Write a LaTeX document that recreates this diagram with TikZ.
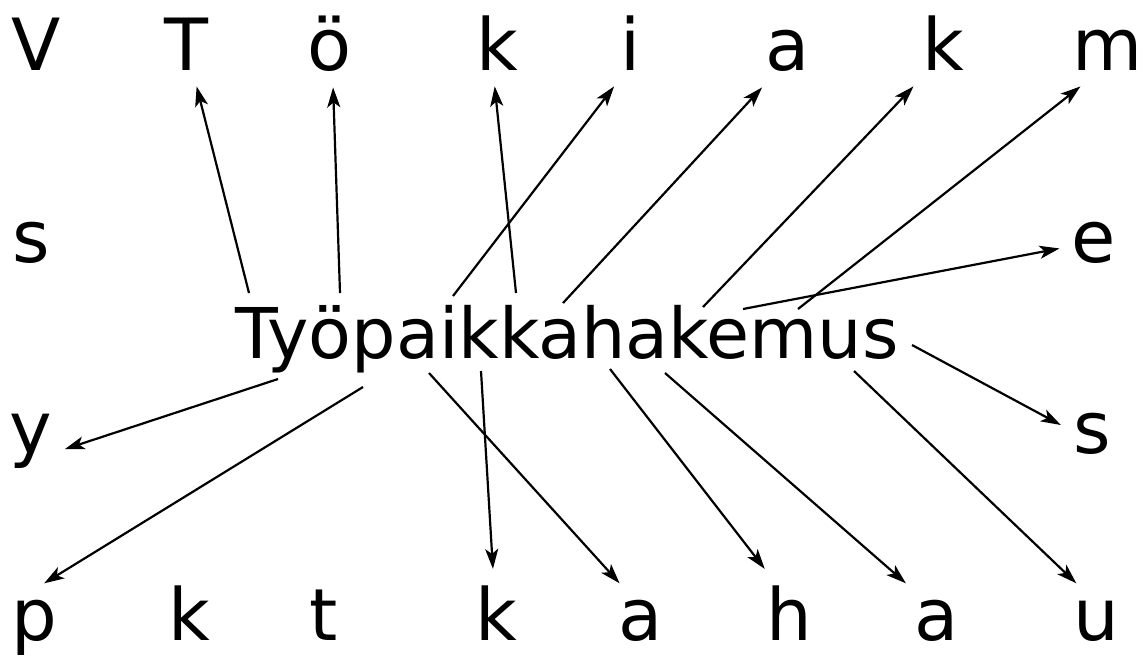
\documentclass[tikz,border=0pt]{standalone}
\usepackage{fontspec}
\setmainfont{DejaVu Sans}
\usetikzlibrary{arrows.meta}
\tikzset{
  ltr/.style = {anchor=base, inner xsep=6pt, inner ysep=8pt,
                font=\fontsize{36}{43}\selectfont},
  wrd/.style = {anchor=base, inner sep=0pt, font=\fontsize{35}{42}\selectfont},
  arr/.style = {-{Stealth[length=10pt, width=6.5pt, inset=2.5pt]}, line width=1.1pt},
}
\begin{document}
\begin{tikzpicture}[x=0.5pt, y=-0.5pt]
    \useasboundingbox (0,0) rectangle (1143,655);
    % the word in the middle
    \node[wrd] (word) at (567,358) {Työpaikkahakemus};
    % top row
    \node[ltr] (tV)  at (36,70)   {V};
    \node[ltr] (tT)  at (186,70)  {T};
    \node[ltr] (tO)  at (330,70)  {ö};
    \node[ltr] (tK)  at (497,70)  {k};
    \node[ltr] (tI)  at (630,70)  {i};
    \node[ltr] (tA)  at (788,70)  {a};
    \node[ltr] (tK2) at (943,70)  {k};
    \node[ltr] (tM)  at (1108,70) {m};
    % sides
    \node[ltr] (lS)  at (31,262)    {s};
    \node[ltr] (rE)  at (1094,262)  {e};
    \node[ltr] (lY)  at (31,453)    {y};
    \node[ltr] (rS)  at (1092,453)  {s};
    % bottom row
    \node[ltr] (bP)  at (34,640)   {p};
    \node[ltr] (bK)  at (189,640)  {k};
    \node[ltr] (bT)  at (324,640)  {t};
    \node[ltr] (bK2) at (496,640)  {k};
    \node[ltr] (bA)  at (641,640)  {a};
    \node[ltr] (bH)  at (789,640)  {h};
    \node[ltr] (bA2) at (937,640)  {a};
    \node[ltr] (bU)  at (1096,640) {u};
    % start points on the word
    \coordinate (wT)  at (249,293);
    \coordinate (wO)  at (340,293);
    \coordinate (wI)  at (453,296);
    \coordinate (wK)  at (516,293);
    \coordinate (wA)  at (563,303);
    \coordinate (wK2) at (703,307);
    \coordinate (wE)  at (743,309);
    \coordinate (wM)  at (798,309);
    \coordinate (wS)  at (912,345);
    \coordinate (wY)  at (278,379);
    \coordinate (wP)  at (363,387);
    \coordinate (wA2) at (429,373);
    \coordinate (wK3) at (481,371);
    \coordinate (wH)  at (610,369);
    \coordinate (wA3) at (665,373);
    \coordinate (wU)  at (854,371);
    % arrows up
    \draw[arr] (wT)  -- (tT.-76);
    \draw[arr] (wO)  -- (tO.-86);
    \draw[arr] (wK)  -- (tK.-93);
    \draw[arr] (wI)  -- (tI.-110);
    \draw[arr] (wA)  -- (tA.-125);
    \draw[arr] (wK2) -- (tK2.-124);
    \draw[arr] (wM)  -- (tM.-127);
    % arrows to the sides
    \draw[arr] (wE)  -- (rE.-170);
    \draw[arr] (wS)  -- (rS.165);
    \draw[arr] (wY)  -- (lY.-14);
    % arrows down
    \draw[arr] (wP)  -- (bP.77);
    \draw[arr] (wK3) -- (bK2.94);
    \draw[arr] (wA2) -- (bA.120);
    \draw[arr] (wH)  -- (bH.119);
    \draw[arr] (wA3) -- (bA2.130);
    \draw[arr] (wU)  -- (bU.118);
\end{tikzpicture}
\end{document}
